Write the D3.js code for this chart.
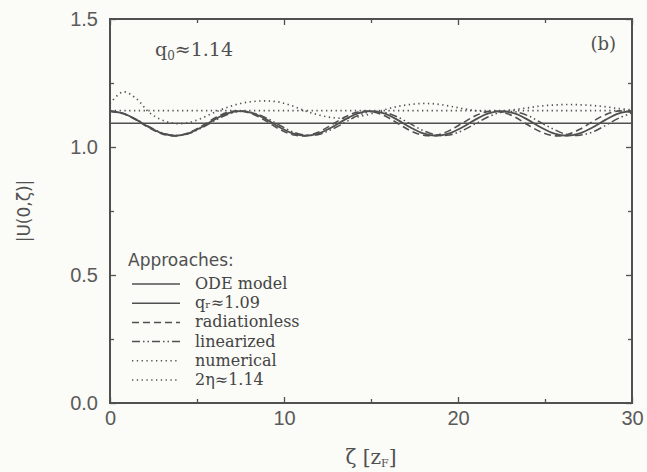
<!DOCTYPE html>
<html>
<head>
<meta charset="utf-8">
<script src="https://cdn.jsdelivr.net/npm/d3@7"></script>
<style>
  html, body { margin: 0; padding: 0; background: #fbfbf7; }
  svg { display: block; }
</style>
</head>
<body>
<svg id="chart"></svg>
<script>
const width = 647,
    height = 472;

// zeta grid, step 0.75
const zeta = d3.range(41).map((i) => i * 0.75);

// ODE model (solid, oscillating)
const odeModel = [
    1.140, 1.131, 1.107, 1.077, 1.053, 1.044, 1.053, 1.077, 1.107, 1.131,
    1.140, 1.131, 1.107, 1.077, 1.053, 1.044, 1.053, 1.077, 1.107, 1.131,
    1.140, 1.131, 1.107, 1.077, 1.053, 1.044, 1.053, 1.077, 1.107, 1.131,
    1.140, 1.131, 1.107, 1.077, 1.053, 1.044, 1.053, 1.077, 1.107, 1.131,
    1.142,
];
// radiationless (dashed)
const radiationless = [
    1.141, 1.131, 1.106, 1.075, 1.051, 1.043, 1.055, 1.081, 1.112, 1.135,
    1.141, 1.127, 1.100, 1.069, 1.048, 1.044, 1.059, 1.087, 1.117, 1.137,
    1.139, 1.123, 1.094, 1.064, 1.046, 1.046, 1.064, 1.093, 1.122, 1.139,
    1.137, 1.118, 1.087, 1.059, 1.044, 1.048, 1.069, 1.100, 1.127, 1.141,
    1.135,
];
// linearized (dash-dot)
const linearized = [
    1.139, 1.130, 1.108, 1.079, 1.055, 1.045, 1.052, 1.074, 1.102, 1.127,
    1.139, 1.133, 1.113, 1.085, 1.059, 1.046, 1.049, 1.069, 1.096, 1.123,
    1.138, 1.136, 1.118, 1.091, 1.064, 1.047, 1.047, 1.064, 1.091, 1.118,
    1.136, 1.138, 1.123, 1.096, 1.069, 1.049, 1.046, 1.059, 1.085, 1.113,
    1.133,
];
// numerical (dotted)
const numerical = [
    1.170, 1.215, 1.190, 1.135, 1.105, 1.092, 1.095, 1.112, 1.135, 1.155,
    1.170, 1.178, 1.180, 1.175, 1.160, 1.140, 1.125, 1.115, 1.112, 1.118,
    1.130, 1.145, 1.158, 1.166, 1.170, 1.168, 1.160, 1.150, 1.142, 1.138,
    1.140, 1.146, 1.153, 1.160, 1.164, 1.166, 1.165, 1.162, 1.157, 1.150,
    1.145,
];
// constant levels
const qr = 1.093, // q_r ~ 1.09
    twoEta = 1.142; // 2 eta ~ 1.14

const xMajor = [0, 10, 20, 30],
    xMinor = [5, 15, 25],
    yMajor = [0, 0.5, 1.0, 1.5],
    yMinor = [0.25, 0.75, 1.25];

const legendItems = [
    { label: 'ODE model', dash: null },
    { label: 'q\u1D63\u22481.09', dash: null },
    { label: 'radiationless', dash: '7,4' },
    { label: 'linearized', dash: '8,3,1.5,3,1.5,3' },
    { label: 'numerical', dash: '1.3,3.5' },
    { label: '2\u03B7\u22481.14', dash: '1.3,3.5' },
];

const ink = '#505050',
    margin = { left: 110, right: 15, top: 19, bottom: 69 };

const svg = d3.select('#chart').attr('width', width).attr('height', height);

const x = d3.scaleLinear().domain([0, 30]).range([margin.left, width - margin.right]);
const y = d3.scaleLinear().domain([0, 1.5]).range([height - margin.bottom, margin.top]);

// axes with inward ticks on all four sides
function styleAxis(g) {
    g.select('.domain').remove();
    g.selectAll('line').attr('stroke', ink).attr('stroke-width', 1.3);
    g.selectAll('text')
        .attr('fill', '#5a5a5a')
        .style('font-family', 'Liberation Sans, Arial, sans-serif')
        .style('font-size', '20px');
}

svg.append('g')
    .attr('transform', `translate(0,${y(0)})`)
    .call(d3.axisBottom(x).tickValues(xMajor).tickSize(-6).tickPadding(8).tickFormat(d3.format('d')))
    .call(styleAxis);
svg.append('g')
    .attr('transform', `translate(0,${y(0)})`)
    .call(d3.axisBottom(x).tickValues(xMinor).tickSize(-4).tickFormat(''))
    .call(styleAxis);
svg.append('g')
    .attr('transform', `translate(0,${y(1.5)})`)
    .call(d3.axisTop(x).tickValues(xMajor).tickSize(-6).tickFormat(''))
    .call(styleAxis);
svg.append('g')
    .attr('transform', `translate(0,${y(1.5)})`)
    .call(d3.axisTop(x).tickValues(xMinor).tickSize(-4).tickFormat(''))
    .call(styleAxis);
svg.append('g')
    .attr('transform', `translate(${x(0)},0)`)
    .call(d3.axisLeft(y).tickValues(yMajor).tickSize(-6).tickPadding(12).tickFormat(d3.format('.1f')))
    .call(styleAxis);
svg.append('g')
    .attr('transform', `translate(${x(0)},0)`)
    .call(d3.axisLeft(y).tickValues(yMinor).tickSize(-4).tickFormat(''))
    .call(styleAxis);
svg.append('g')
    .attr('transform', `translate(${x(30)},0)`)
    .call(d3.axisRight(y).tickValues(yMajor).tickSize(-6).tickFormat(''))
    .call(styleAxis);
svg.append('g')
    .attr('transform', `translate(${x(30)},0)`)
    .call(d3.axisRight(y).tickValues(yMinor).tickSize(-4).tickFormat(''))
    .call(styleAxis);

// frame
svg.append('rect')
    .attr('x', x(0))
    .attr('y', y(1.5))
    .attr('width', x(30) - x(0))
    .attr('height', y(0) - y(1.5))
    .attr('fill', 'none')
    .attr('stroke', ink)
    .attr('stroke-width', 2);

// curves
const line = d3
    .line()
    .x((d) => x(d[0]))
    .y((d) => y(d[1]))
    .curve(d3.curveCatmullRom);

const series = [
    { values: odeModel, dash: null, w: 1.8 },
    { values: radiationless, dash: '7,4', w: 1.6 },
    { values: linearized, dash: '8,3,1.5,3,1.5,3', w: 1.5 },
    { values: numerical, dash: '1.3,3.5', w: 1.7 },
];

const plot = svg.append('g');

plot.append('line')
    .attr('x1', x(0))
    .attr('x2', x(30))
    .attr('y1', y(qr))
    .attr('y2', y(qr))
    .attr('stroke', ink)
    .attr('stroke-width', 1.4);

plot.append('line')
    .attr('x1', x(0))
    .attr('x2', x(30))
    .attr('y1', y(twoEta))
    .attr('y2', y(twoEta))
    .attr('stroke', ink)
    .attr('stroke-width', 1.7)
    .attr('stroke-dasharray', '1.3,3.5');

series.forEach((s) => {
    plot.append('path')
        .datum(zeta.map((z, i) => [z, s.values[i]]))
        .attr('fill', 'none')
        .attr('stroke', ink)
        .attr('stroke-width', s.w)
        .attr('stroke-dasharray', s.dash)
        .attr('d', line);
});

// annotations
svg.append('text')
    .attr('x', 155)
    .attr('y', 56)
    .attr('fill', ink)
    .style('font-family', 'DejaVu Serif, serif')
    .style('font-size', '19px')
    .html('q<tspan font-size="12px" dy="4">0</tspan><tspan dy="-4">\u22481.14</tspan>');

svg.append('text')
    .attr('x', 616)
    .attr('y', 50)
    .attr('text-anchor', 'end')
    .attr('fill', ink)
    .style('font-family', 'DejaVu Serif, serif')
    .style('font-size', '18px')
    .text('(b)');

// legend
const legend = svg.append('g');

legend.append('text')
    .attr('x', 128)
    .attr('y', 266)
    .attr('fill', ink)
    .style('font-family', 'DejaVu Sans, sans-serif')
    .style('font-size', '17px')
    .text('Approaches:');

legendItems.forEach((d, i) => {
    const ly = 284 + i * 19.2;
    legend.append('line')
        .attr('x1', 132)
        .attr('x2', 180)
        .attr('y1', ly)
        .attr('y2', ly)
        .attr('stroke', ink)
        .attr('stroke-width', 1.5)
        .attr('stroke-dasharray', d.dash);
    legend.append('text')
        .attr('x', 195)
        .attr('y', ly + 5)
        .attr('fill', '#444')
        .style('font-family', 'DejaVu Serif, serif')
        .style('font-size', '16px')
        .text(d.label);
});

// axis titles
svg.append('text')
    .attr('transform', `translate(30,${(y(0) + y(1.5)) / 2}) rotate(-90)`)
    .attr('text-anchor', 'middle')
    .attr('fill', ink)
    .style('font-family', 'DejaVu Sans, sans-serif')
    .style('font-size', '17px')
    .text('|U(0,\u03B6)|');

svg.append('text')
    .attr('x', (x(0) + x(30)) / 2)
    .attr('y', 464)
    .attr('text-anchor', 'middle')
    .attr('fill', ink)
    .style('font-family', 'DejaVu Serif, serif')
    .style('font-size', '20px')
    .html('\u03B6 [z<tspan font-size="11px" dy="3">F</tspan><tspan dy="-3">]</tspan>');
</script>
</body>
</html>
